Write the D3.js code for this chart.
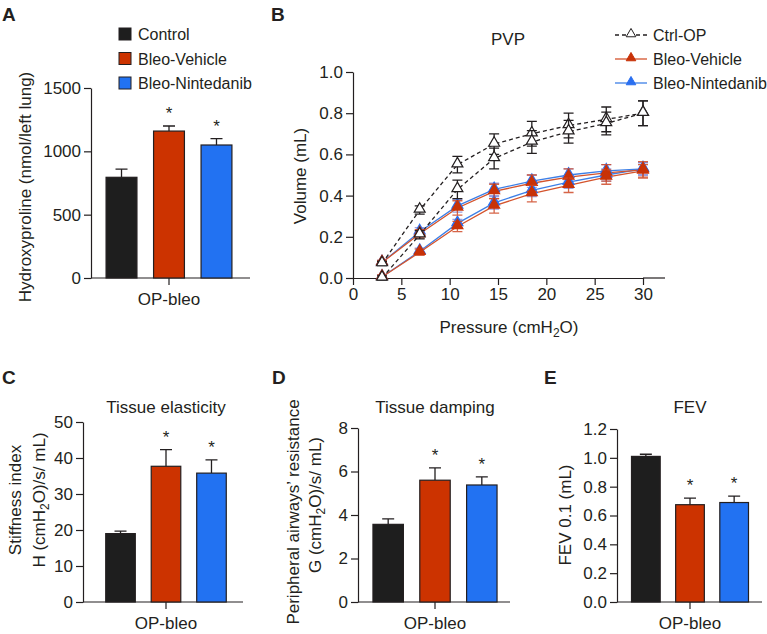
<!DOCTYPE html>
<html>
<head>
<meta charset="UTF-8">
<title>OP-bleo lung function</title>
<script src="https://d3js.org/d3.v7.min.js"></script>
<style>
  body { margin: 0; background: #fff; }
  text { font-family: "Liberation Sans", Arial, sans-serif; fill: #231f20; }
  .domain, .tick line { stroke: #231f20; stroke-width: 1.2px; }
  .tick text { font-size: 17px; }
  .letter { font-size: 19px; font-weight: bold; }
  .lbl { font-size: 17px; }
  .leg { font-size: 16px; }
</style>
</head>
<body>
<svg id="fig" width="767" height="634"></svg>
<script>
// groups shared by the bar panels
const groups = ["Control", "Bleo-Vehicle", "Bleo-Nintedanib"];
const groupColors = ["#1e1e1e", "#cc3300", "#2272f2"];

// A: hydroxyproline
const hypMean = [795, 1160, 1050];
const hypSem = [65, 40, 50];
// C: tissue elasticity
const elaMean = [19.0, 37.7, 35.8];
const elaSem = [0.7, 4.6, 3.7];
// D: tissue damping
const dampMean = [3.57, 5.6, 5.38];
const dampSem = [0.25, 0.57, 0.37];
// E: FEV 0.1
const fevMean = [1.01, 0.675, 0.69];
const fevSem = [0.015, 0.045, 0.045];
const stars = [false, true, true];

// B: pressure-volume loops
const pressure = [3, 6.9, 10.8, 14.6, 18.5, 22.3, 26.2, 30];
const ctrlDefl = [0.07, 0.33, 0.55, 0.65, 0.70, 0.74, 0.77, 0.80];
const ctrlDeflSem = [0.01, 0.02, 0.04, 0.05, 0.06, 0.06, 0.06, 0.06];
const ctrlInfl = [0.0, 0.21, 0.43, 0.58, 0.66, 0.71, 0.75, 0.80];
const ctrlInflSem = [0.01, 0.02, 0.045, 0.05, 0.055, 0.055, 0.055, 0.06];
const vehDefl = [0.075, 0.215, 0.34, 0.42, 0.46, 0.49, 0.51, 0.525];
const vehDeflSem = [0.01, 0.02, 0.035, 0.035, 0.04, 0.04, 0.04, 0.04];
const vehInfl = [0.005, 0.125, 0.25, 0.35, 0.41, 0.45, 0.49, 0.52];
const vehInflSem = [0.01, 0.015, 0.025, 0.035, 0.04, 0.035, 0.035, 0.03];
const ninDefl = [0.075, 0.225, 0.35, 0.43, 0.47, 0.50, 0.52, 0.53];
const ninDeflSem = [0.01, 0.02, 0.03, 0.03, 0.03, 0.03, 0.03, 0.03];
const ninInfl = [0.005, 0.13, 0.265, 0.365, 0.425, 0.465, 0.50, 0.53];
const ninInflSem = [0.01, 0.015, 0.02, 0.03, 0.03, 0.03, 0.03, 0.03];

const svg = d3.select("#fig");

// text with a subscript 2 in "cmH2O"
function subText(sel, parts) {
  parts.forEach(p => {
    const t = sel.append("tspan").text(p.t);
    if (p.sub) t.attr("dy", 4).attr("font-size", 12);
    if (p.up) t.attr("dy", -4);
  });
}

function letter(x, y, s) {
  svg.append("text").attr("class", "letter").attr("x", x).attr("y", y).text(s);
}

function barPanel(o) {
  const g = svg.append("g");
  const y = d3.scaleLinear().domain(o.domain).range([o.yBottom, o.yTop]);
  const x = d3.scaleBand().domain(groups).range(o.band).paddingInner(0.35).paddingOuter(0.17);

  g.append("g").attr("transform", `translate(${o.xAxis},0)`)
    .call(d3.axisLeft(y).tickValues(o.ticks).tickFormat(d3.format(o.fmt)).tickSize(7).tickSizeOuter(0).tickPadding(3));

  // x axis line with a single centre tick
  g.append("line").attr("x1", o.xAxis).attr("x2", o.xEnd).attr("y1", o.yBottom).attr("y2", o.yBottom)
    .attr("stroke", "#231f20").attr("stroke-width", 1.2);
  const cx = (o.band[0] + o.band[1]) / 2;
  g.append("line").attr("x1", cx).attr("x2", cx).attr("y1", o.yBottom).attr("y2", o.yBottom + 7)
    .attr("stroke", "#231f20").attr("stroke-width", 1.2);
  g.append("text").attr("class", "lbl").attr("x", cx).attr("y", o.yBottom + 27)
    .attr("text-anchor", "middle").text("OP-bleo");

  const rows = groups.map((k, i) => ({ k, v: o.mean[i], e: o.sem[i], c: groupColors[i], s: stars[i] }));

  g.selectAll(".err").data(rows).enter().append("path")
    .attr("fill", "none").attr("stroke", "#231f20").attr("stroke-width", 1.3)
    .attr("d", d => {
      const m = x(d.k) + x.bandwidth() / 2;
      return `M${m},${y(d.v)}V${y(d.v + d.e)}M${m - 6},${y(d.v + d.e)}H${m + 6}`;
    });

  g.selectAll(".bar").data(rows).enter().append("rect")
    .attr("x", d => x(d.k)).attr("width", x.bandwidth())
    .attr("y", d => y(d.v)).attr("height", d => o.yBottom - y(d.v))
    .attr("fill", d => d.c).attr("stroke", "#231f20").attr("stroke-width", 1.2);

  g.selectAll(".star").data(rows.filter(d => d.s)).enter().append("text")
    .attr("x", d => x(d.k) + x.bandwidth() / 2).attr("y", d => y(d.v + d.e) - 7)
    .attr("text-anchor", "middle").attr("font-size", 17).text("*");

  if (o.title) {
    g.append("text").attr("class", "lbl").attr("x", cx).attr("y", o.titleY)
      .attr("text-anchor", "middle").text(o.title);
  }
  return { g, x, y };
}

// ---------- A ----------
letter(2, 21, "A");
barPanel({
  xAxis: 91, xEnd: 250, band: [98, 240], yTop: 88, yBottom: 278,
  domain: [0, 1500], ticks: [0, 500, 1000, 1500], fmt: "d",
  mean: hypMean, sem: hypSem
});
svg.append("text").attr("class", "lbl").attr("text-anchor", "middle")
  .attr("transform", "translate(31,187) rotate(-90)").text("Hydroxyproline (nmol/left lung)");
const legA = svg.selectAll(".legA").data(groups).enter().append("g")
  .attr("transform", (d, i) => `translate(119,${28 + i * 24.5})`);
legA.append("rect").attr("width", 12).attr("height", 12)
  .attr("fill", (d, i) => groupColors[i]).attr("stroke", "#231f20").attr("stroke-width", 1);
legA.append("text").attr("class", "leg").attr("x", 19).attr("y", 12).text(d => d);

// ---------- B ----------
letter(271, 21, "B");
const bx = d3.scaleLinear().domain([0, 30]).range([353, 643]);
const by = d3.scaleLinear().domain([0, 1]).range([278, 72]);
svg.append("g").attr("transform", "translate(353,0)")
  .call(d3.axisLeft(by).tickValues(d3.range(0, 1.01, 0.2)).tickFormat(d3.format(".1f")).tickSize(7).tickSizeOuter(0).tickPadding(3));
svg.append("g").attr("transform", "translate(0,278)")
  .call(d3.axisBottom(bx).tickValues(d3.range(0, 31, 5)).tickSize(7).tickSizeOuter(0).tickPadding(3));
svg.append("line").attr("x1", 643).attr("x2", 665).attr("y1", 278).attr("y2", 278)
  .attr("stroke", "#231f20").attr("stroke-width", 1.2);
svg.append("text").attr("class", "lbl").attr("x", 508).attr("y", 45).attr("text-anchor", "middle").text("PVP");
svg.append("text").attr("class", "lbl").attr("text-anchor", "middle")
  .attr("transform", "translate(306,176) rotate(-90)").text("Volume (mL)");
subText(svg.append("text").attr("class", "lbl").attr("x", 509).attr("y", 333).attr("text-anchor", "middle"),
  [{ t: "Pressure (cmH" }, { t: "2", sub: true }, { t: "O)", up: true }]);

const tri = d3.symbol().type(d3.symbolTriangle).size(52);
const line = d3.line().x(d => bx(d.p)).y(d => by(d.v));

const series = [
  { v: ninDefl, e: ninDeflSem, line: "#3d7fe6", err: "#8a8fd8", fill: "#2a6ff0", dash: null },
  { v: ninInfl, e: ninInflSem, line: "#3d7fe6", err: "#8a8fd8", fill: "#2a6ff0", dash: null },
  { v: vehDefl, e: vehDeflSem, line: "#d4532c", err: "#cf4a28", fill: "#c83208", dash: null },
  { v: vehInfl, e: vehInflSem, line: "#d4532c", err: "#cf4a28", fill: "#c83208", dash: null },
  { v: ctrlDefl, e: ctrlDeflSem, line: "#231f20", err: "#231f20", fill: "#fff", dash: "4,3" },
  { v: ctrlInfl, e: ctrlInflSem, line: "#231f20", err: "#231f20", fill: "#fff", dash: "4,3" }
];

// lines first, then error bars and markers
series.forEach(s => {
  const pts = pressure.map((p, i) => ({ p, v: s.v[i], e: s.e[i] }));
  svg.append("path").datum(pts).attr("d", line).attr("fill", "none")
    .attr("stroke", s.line).attr("stroke-width", 1.3).attr("stroke-dasharray", s.dash);
});
series.forEach(s => {
  const pts = pressure.map((p, i) => ({ p, v: s.v[i], e: s.e[i] }));
  const g = svg.append("g");
  g.selectAll("path.eb").data(pts).enter().append("path")
    .attr("fill", "none").attr("stroke", s.err).attr("stroke-width", 1.3).attr("opacity", s.dash ? 1 : 0.85)
    .attr("d", d => {
      const m = bx(d.p), t = by(d.v + d.e), b = by(d.v - d.e);
      return `M${m},${t}V${b}M${m - 5},${t}H${m + 5}M${m - 5},${b}H${m + 5}`;
    });
  g.selectAll("path.mk").data(pts).enter().append("path")
    .attr("d", tri).attr("transform", d => `translate(${bx(d.p)},${by(d.v) - 1})`)
    .attr("fill", s.fill).attr("stroke", s.dash ? "#231f20" : s.fill).attr("stroke-width", 1.2);
});

// legend B
const legB = [
  { k: "Ctrl-OP", c: "#231f20", f: "#fff", dash: "4,3" },
  { k: "Bleo-Vehicle", c: "#d4532c", f: "#c83208", dash: null },
  { k: "Bleo-Nintedanib", c: "#3d7fe6", f: "#2a6ff0", dash: null }
];
const lg = svg.selectAll(".legB").data(legB).enter().append("g")
  .attr("transform", (d, i) => `translate(615,${35 + i * 24})`);
lg.append("line").attr("x1", 0).attr("x2", 32).attr("stroke", d => d.c)
  .attr("stroke-width", 1.3).attr("stroke-dasharray", d => d.dash);
lg.append("path").attr("d", d3.symbol().type(d3.symbolTriangle).size(40))
  .attr("transform", "translate(16,-1)").attr("fill", d => d.f).attr("stroke", d => d.dash ? "#231f20" : d.f);
lg.append("text").attr("class", "leg").attr("x", 38).attr("y", 6).text(d => d.k);

// ---------- C ----------
letter(2, 384, "C");
barPanel({
  xAxis: 83, xEnd: 243, band: [98, 234], yTop: 422, yBottom: 602,
  domain: [0, 50], ticks: [0, 10, 20, 30, 40, 50], fmt: "d",
  mean: elaMean, sem: elaSem, title: "Tissue elasticity", titleY: 413
});
svg.append("text").attr("class", "lbl").attr("text-anchor", "middle")
  .attr("transform", "translate(21,500) rotate(-90)").text("Stiffness index");
subText(svg.append("text").attr("class", "lbl").attr("text-anchor", "middle")
  .attr("transform", "translate(45,500) rotate(-90)"),
  [{ t: "H (cmH" }, { t: "2", sub: true }, { t: "O)/s/ mL)", up: true }]);

// ---------- D ----------
letter(272, 384, "D");
barPanel({
  xAxis: 358, xEnd: 510, band: [365, 505], yTop: 428, yBottom: 602,
  domain: [0, 8], ticks: [0, 2, 4, 6, 8], fmt: "d",
  mean: dampMean, sem: dampSem, title: "Tissue damping", titleY: 413
});
svg.append("text").attr("class", "lbl").attr("text-anchor", "middle")
  .attr("transform", "translate(299,512) rotate(-90)").text("Peripheral airways\u2019 resistance");
subText(svg.append("text").attr("class", "lbl").attr("text-anchor", "middle")
  .attr("transform", "translate(321,505) rotate(-90)"),
  [{ t: "G (cmH" }, { t: "2", sub: true }, { t: "O)/s/ mL)", up: true }]);

// ---------- E ----------
letter(544, 384, "E");
barPanel({
  xAxis: 617, xEnd: 762, band: [624, 756], yTop: 429, yBottom: 602,
  domain: [0, 1.2], ticks: [0, 0.2, 0.4, 0.6, 0.8, 1.0, 1.2], fmt: ".1f",
  mean: fevMean, sem: fevSem, title: "FEV", titleY: 413
});
svg.append("text").attr("class", "lbl").attr("text-anchor", "middle")
  .attr("transform", "translate(571,515) rotate(-90)").text("FEV 0.1 (mL)");
</script>
</body>
</html>
